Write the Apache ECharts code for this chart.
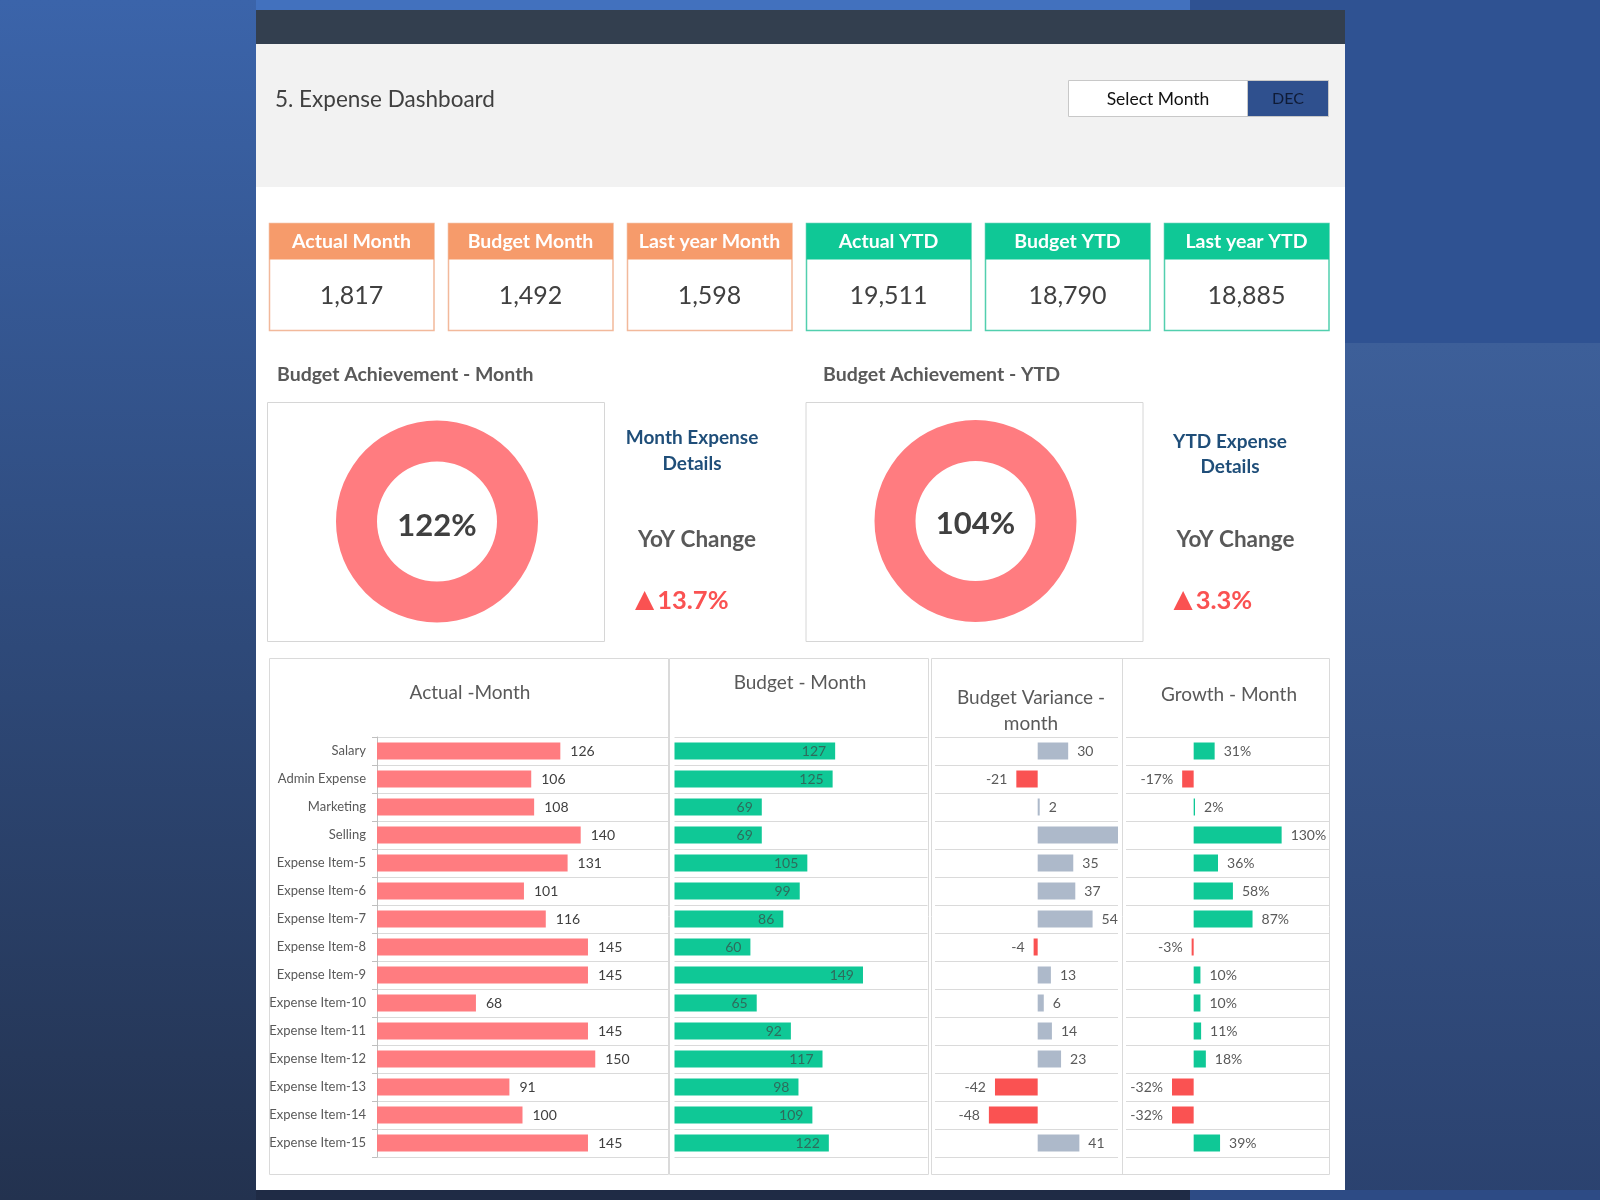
<!DOCTYPE html>
<html>
<head>
<meta charset="utf-8">
<title>Expense Dashboard</title>
<script src="https://cdn.jsdelivr.net/npm/echarts@6/dist/echarts.min.js"></script>
<style>
  html, body { margin: 0; padding: 0; }
  #main { width: 1600px; height: 1200px; }
</style>
</head>
<body>
<div id="main"></div>
<script>
// ---- data ----
const categories = ['Salary', 'Admin Expense', 'Marketing', 'Selling', 'Expense Item-5', 'Expense Item-6',
  'Expense Item-7', 'Expense Item-8', 'Expense Item-9', 'Expense Item-10', 'Expense Item-11',
  'Expense Item-12', 'Expense Item-13', 'Expense Item-14', 'Expense Item-15']
const actualMonth = [126, 106, 108, 140, 131, 101, 116, 145, 145, 68, 145, 150, 91, 100, 145]
const budgetMonth = [127, 125, 69, 69, 105, 99, 86, 60, 149, 65, 92, 117, 98, 109, 122]
const budgetVariance = [30, -21, 2, 85, 35, 37, 54, -4, 13, 6, 14, 23, -42, -48, 41]
const growthMonth = [31, -17, 2, 130, 36, 58, 87, -3, 10, 10, 11, 18, -32, -32, 39]

const kpiLabels = ['Actual Month', 'Budget Month', 'Last year Month', 'Actual YTD', 'Budget YTD', 'Last year YTD']
const kpiValues = [1817, 1492, 1598, 19511, 18790, 18885]

const achievementLabels = ['Budget Achievement - Month', 'Budget Achievement - YTD']
const achievement = [122, 104]
const detailLabels = [['Month Expense', 'Details'], ['YTD Expense', 'Details']]
const yoyChange = [13.7, 3.3]

const panelTitles = ['Actual -Month', 'Budget - Month', 'Budget Variance -\nmonth', 'Growth - Month']

// ---- colours ----
const ORANGE = '#f69b6b'
const TEAL = '#0fc896'
const PINK = '#ff7c80'
const RED = '#fa5252'
const GREY_BAR = '#adb9ca'
const LINE = '#dadada'
const TXT = '#595959'
const FONT = 'Lato'

const varianceMax = 79

function rect(x, y, w, h, style, z) {
  return { type: 'rect', silent: true, z: z === undefined ? -100 : z, shape: { x: x, y: y, width: w, height: h }, style: style }
}
function text(x, y, str, font, fill, align) {
  return {
    type: 'text', silent: true, z: 50, x: x, y: y,
    style: { text: str, font: font, fill: fill, textAlign: align || 'center', textVerticalAlign: 'middle', lineHeight: 26 }
  }
}
function grad(c1, c2) {
  return new echarts.graphic.LinearGradient(0, 0, 0, 1, [{ offset: 0, color: c1 }, { offset: 1, color: c2 }])
}

// ---- background, header and frames ----
const elements = [
  rect(0, 0, 1600, 1200, { fill: grad('#3b64aa', '#23324f') }),
  rect(256, 0, 934, 10, { fill: '#4271be' }),
  rect(1190, 0, 410, 343, { fill: '#2f5292' }),
  rect(1190, 343, 410, 857, { fill: grad('#3d5f99', '#2b426f') }),
  rect(256, 1190, 934, 10, { fill: '#1f2b45' }),
  rect(1190, 1190, 410, 10, { fill: '#2d4b85' }),
  rect(256, 10, 1089, 1180, { fill: '#ffffff' }),
  rect(256, 10, 1089, 34, { fill: '#333f4f' }),
  rect(256, 44, 1089, 143, { fill: '#f2f2f2' }),
  text(275, 100, '5. Expense Dashboard', '22.5px ' + FONT, '#404040', 'left'),
  rect(1068.5, 80.5, 179, 36, { fill: '#ffffff', stroke: '#c8c8c8', lineWidth: 1 }),
  rect(1247.5, 80.5, 81, 36, { fill: '#2f508e', stroke: '#c8c8c8', lineWidth: 1 }),
  text(1158, 99, 'Select Month', '17.5px ' + FONT, '#111111'),
  text(1288, 99, 'DEC', '16px ' + FONT, '#0f1b36')
]

// KPI cards
kpiLabels.forEach(function (label, i) {
  const x = 269.5 + i * 179
  const col = i < 3 ? ORANGE : TEAL
  const border = i < 3 ? '#f2b99b' : '#52cfae'
  elements.push(rect(x, 223.5, 164.5, 107, { fill: '#ffffff', stroke: border, lineWidth: 1.5 }, -90))
  elements.push(rect(x, 223.5, 164.5, 36, { fill: col }, -89))
  elements.push(text(x + 82, 242, label, 'bold 19.5px ' + FONT, '#ffffff'))
  elements.push(text(x + 82, 296, kpiValues[i].toLocaleString('en-US'), '25px ' + FONT, '#404040'))
})

// achievement blocks
const achX = [0, 538.5]
const achTitleX = [277, 823]
const donutCenters = [[437, 521.5], [975.5, 521]]
achievementLabels.forEach(function (label, i) {
  const dx = achX[i]
  elements.push(text(achTitleX[i], 375, label, 'bold 19.5px ' + FONT, TXT, 'left'))
  elements.push(rect(267.5 + dx, 402.5, 337, 239, { fill: '#ffffff', stroke: '#d6d6d6', lineWidth: 1 }, -90))
  // percentage in the middle of the ring
  elements.push(text(donutCenters[i][0], donutCenters[i][1] + (i ? 3 : 4), achievement[i] + '%', 'bold 31px ' + FONT, '#404040'))
  elements.push(text(692 + dx - (i ? 0.5 : 0), 438 + (i ? 4 : 0), detailLabels[i][0], 'bold 19px ' + FONT, '#1f4e79'))
  elements.push(text(692 + dx - (i ? 0.5 : 0), 464 + (i ? 3 : 0), detailLabels[i][1], 'bold 19px ' + FONT, '#1f4e79'))
  elements.push(text(697 + dx, 540, 'YoY Change', 'bold 22.5px ' + FONT, TXT))
  elements.push({
    type: 'text', silent: true, z: 50, x: 635 + dx, y: 601,
    style: {
      text: '{a|▲}{b|' + yoyChange[i] + '%}', textAlign: 'left', textVerticalAlign: 'middle',
      rich: {
        a: { font: '25px "DejaVu Sans"', fill: RED, padding: [0, 3, 2, 0] },
        b: { font: 'bold 25.5px ' + FONT, fill: RED }
      }
    }
  })
})

// bottom panels
elements.push(rect(269.5, 658.5, 399, 516, { fill: '#ffffff', stroke: LINE, lineWidth: 1 }, -90))
elements.push(rect(669.5, 658.5, 259, 516, { fill: '#ffffff', stroke: LINE, lineWidth: 1 }, -90))
elements.push(rect(931.5, 658.5, 398, 516, { fill: '#ffffff', stroke: LINE, lineWidth: 1 }, -90))
elements.push({ type: 'line', silent: true, z: -80, shape: { x1: 1122.5, y1: 658.5, x2: 1122.5, y2: 1174.5 }, style: { stroke: LINE, lineWidth: 1 } })
elements.push(text(470, 693, panelTitles[0], '19px ' + FONT, TXT))
elements.push(text(800, 683, panelTitles[1], '19px ' + FONT, TXT))
elements.push(text(1031, 711, panelTitles[2], '19px ' + FONT, TXT))
elements.push(text(1229, 695, panelTitles[3], '19px ' + FONT, TXT))

// ---- bar charts ----
const grids = [
  { left: 377, top: 737, width: 291, height: 420 },
  { left: 674.5, top: 737, width: 253, height: 420 },
  { left: 935, top: 737, width: 183, height: 420 },
  { left: 1126, top: 737, width: 203, height: 420 }
]
const xRanges = [[0, 200], [0, 200], [-101, varianceMax], [-100, 200]]

const xAxis = xRanges.map(function (r, i) {
  return { type: 'value', gridIndex: i, min: r[0], max: r[1], show: false }
})
const yAxis = grids.map(function (g, i) {
  return {
    type: 'category', gridIndex: i, data: categories, inverse: true,
    axisLine: { show: i === 0, lineStyle: { color: '#bfbfbf' } },
    axisTick: { show: i === 0, length: 5, lineStyle: { color: '#bfbfbf' } },
    axisLabel: { show: i === 0, fontSize: 13, color: TXT, margin: 11, fontFamily: FONT },
    splitLine: { show: true, lineStyle: { color: LINE } }
  }
})

const valueLabel = { fontSize: 14, color: '#404040', fontFamily: FONT }

const varianceData = budgetVariance.map(function (v) {
  return {
    value: v,
    itemStyle: { color: v < 0 ? RED : GREY_BAR },
    label: { show: v <= varianceMax, position: v < 0 ? 'left' : 'right' }
  }
})
const growthData = growthMonth.map(function (v) {
  return {
    value: v,
    itemStyle: { color: v < 0 ? RED : TEAL },
    label: { position: v < 0 ? 'left' : 'right' }
  }
})

const series = [
  {
    name: 'Actual', type: 'bar', xAxisIndex: 0, yAxisIndex: 0, barWidth: 17, data: actualMonth,
    itemStyle: { color: PINK },
    label: Object.assign({ show: true, position: 'right', distance: 10 }, valueLabel)
  },
  {
    name: 'Budget', type: 'bar', xAxisIndex: 1, yAxisIndex: 1, barWidth: 17, data: budgetMonth,
    itemStyle: { color: TEAL },
    label: Object.assign({}, valueLabel, { show: true, position: 'insideRight', distance: 9, color: '#2f6b5c' })
  },
  {
    name: 'Variance', type: 'bar', xAxisIndex: 2, yAxisIndex: 2, barWidth: 17, data: varianceData, clip: true,
    label: Object.assign({ show: true, distance: 9 }, valueLabel, { color: TXT })
  },
  {
    name: 'Growth', type: 'bar', xAxisIndex: 3, yAxisIndex: 3, barWidth: 17, data: growthData,
    label: Object.assign({ show: true, distance: 9, formatter: '{c}%' }, valueLabel, { color: TXT })
  }
]

// donuts (achievement above 100% -> full ring)
achievement.forEach(function (v, i) {
  series.push({
    type: 'pie', silent: true, center: donutCenters[i], radius: [60, 101],
    data: [{ value: v, name: achievementLabels[i] }],
    itemStyle: { color: PINK },
    label: { show: false },
    labelLine: { show: false }
  })
})

const chart = echarts.init(document.getElementById('main'))
chart.setOption({
  animation: false,
  textStyle: { fontFamily: FONT },
  graphic: { elements: elements },
  grid: grids,
  xAxis: xAxis,
  yAxis: yAxis,
  series: series
})
</script>
</body>
</html>
